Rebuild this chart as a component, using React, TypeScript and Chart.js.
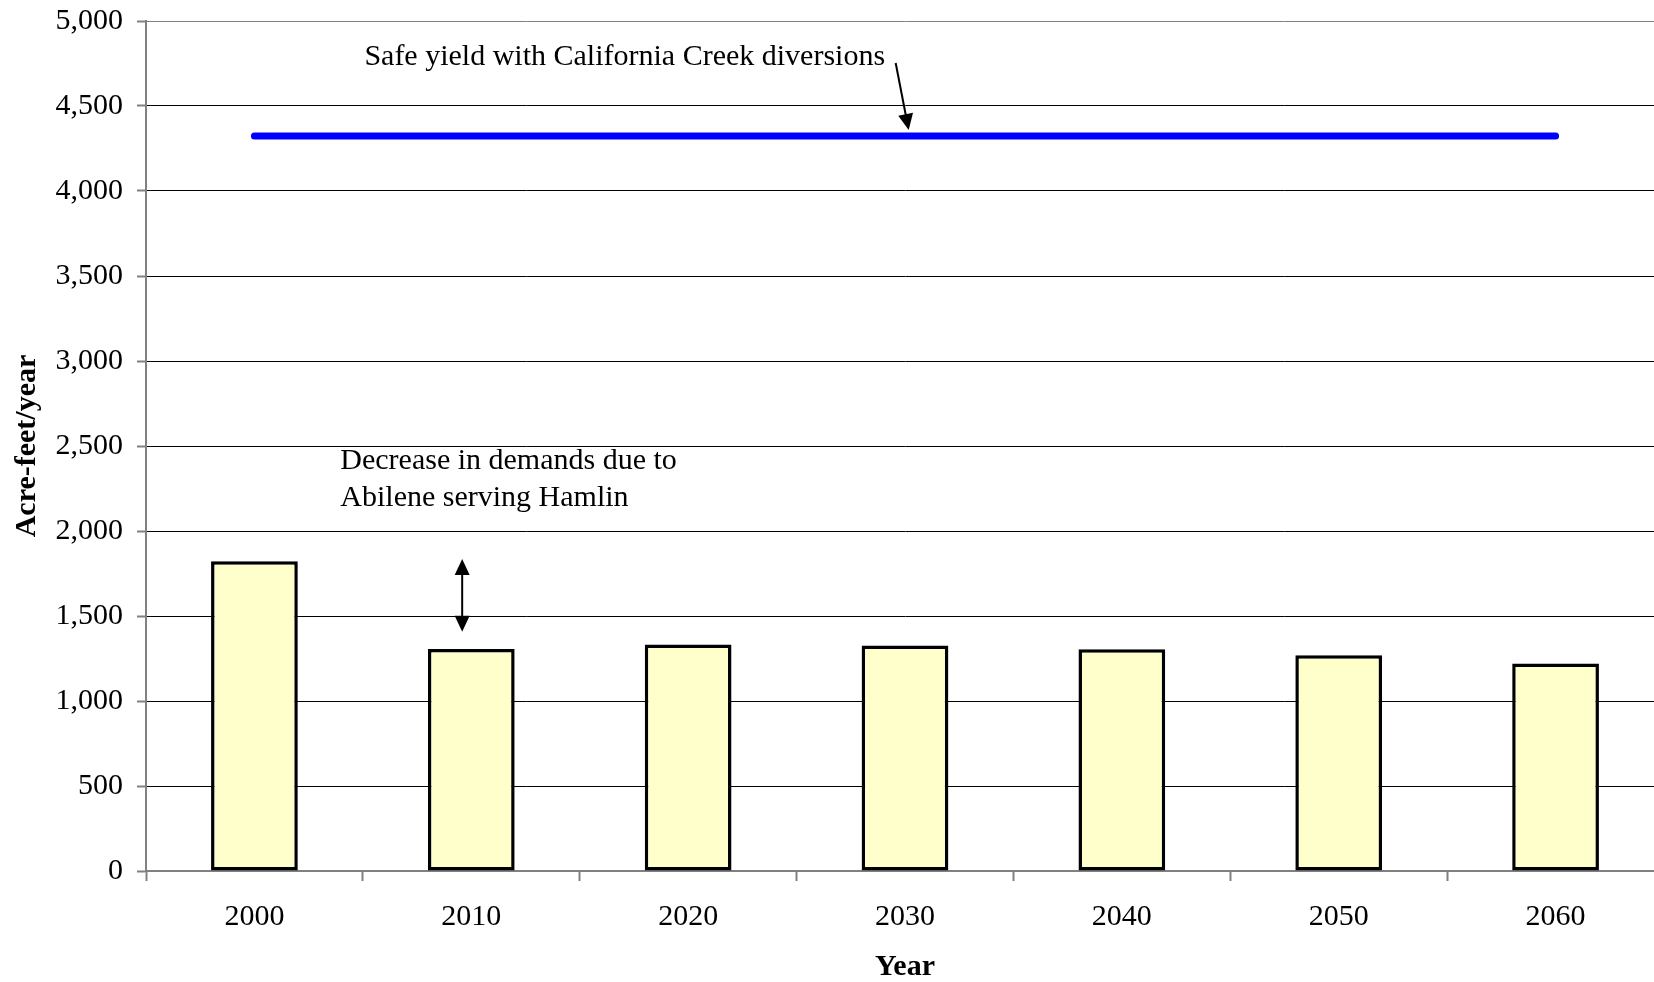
import React, { useEffect, useRef } from "react";
import { Chart, registerables } from "chart.js";

Chart.register(...registerables);

// ---- data ----
const years = ["2000", "2010", "2020", "2030", "2040", "2050", "2060"];
const demands = [1822, 1306, 1333, 1327, 1304, 1269, 1220];
const safeYield = [4324, 4324, 4324, 4324, 4324, 4324, 4324];
const yMin = 0;
const yMax = 5000;
const yStep = 500;

// ---- annotations (in data units: x = category index, y = acre-feet) ----
const safeLabel = { text: "Safe yield with California Creek diversions", x: 0.507, y: 4788 };
const safeArrow = { x1: 2.957, y1: 4753, x2: 3.017, y2: 4359 };
const decreaseLines = ["Decrease in demands due to", "Abilene serving Hamlin"];
const decreaseLabel = { x: 0.396, y: [2412, 2194] };
const decreaseArrow = { x: 0.958, yTop: 1835, yBottom: 1408 };

const SERIF = "'Liberation Serif', 'Times New Roman', serif";

function drawHead(ctx: CanvasRenderingContext2D, x: number, y: number, ang: number) {
  const len = 16;
  const half = 7.5;
  ctx.beginPath();
  ctx.moveTo(x, y);
  ctx.lineTo(x - len * Math.cos(ang) + half * Math.sin(ang), y - len * Math.sin(ang) - half * Math.cos(ang));
  ctx.lineTo(x - len * Math.cos(ang) - half * Math.sin(ang), y - len * Math.sin(ang) + half * Math.cos(ang));
  ctx.closePath();
  ctx.fill();
}

const annotationPlugin = {
  id: "annotations",
  afterDatasetsDraw(chart: any) {
    const { ctx, scales } = chart;
    const xs = scales.x;
    const ys = scales.y;
    const px = (v: number) => xs.getPixelForValue(0) + v * (xs.getPixelForValue(1) - xs.getPixelForValue(0));
    const py = (v: number) => ys.getPixelForValue(v);
    ctx.save();
    ctx.fillStyle = "#000";
    ctx.strokeStyle = "#000";
    ctx.font = `30px ${SERIF}`;
    ctx.textAlign = "left";
    ctx.textBaseline = "middle";
    ctx.fillText(safeLabel.text, px(safeLabel.x), py(safeLabel.y));
    decreaseLines.forEach((t, i) => ctx.fillText(t, px(decreaseLabel.x), py(decreaseLabel.y[i])));

    ctx.lineWidth = 2;
    // single arrow
    const ax1 = px(safeArrow.x1), ay1 = py(safeArrow.y1), ax2 = px(safeArrow.x2), ay2 = py(safeArrow.y2);
    const ang = Math.atan2(ay2 - ay1, ax2 - ax1);
    ctx.beginPath();
    ctx.moveTo(ax1, ay1);
    ctx.lineTo(ax2 - 12 * Math.cos(ang), ay2 - 12 * Math.sin(ang));
    ctx.stroke();
    drawHead(ctx, ax2, ay2, ang);

    // double arrow
    const dx = px(decreaseArrow.x), dt = py(decreaseArrow.yTop), db = py(decreaseArrow.yBottom);
    ctx.beginPath();
    ctx.moveTo(dx, dt + 12);
    ctx.lineTo(dx, db - 12);
    ctx.stroke();
    drawHead(ctx, dx, dt, -Math.PI / 2);
    drawHead(ctx, dx, db, Math.PI / 2);
    ctx.restore();
  },
};

export default function App() {
  const ref = useRef<HTMLCanvasElement>(null);
  useEffect(() => {
    if (!ref.current) return;
    const chart = new Chart(ref.current, {
      type: "bar",
      data: {
        labels: years,
        datasets: [
          {
            type: "line",
            label: "Safe yield",
            data: safeYield,
            borderColor: "#0000FF",
            borderWidth: 7,
            borderCapStyle: "round",
            pointRadius: 0,
            fill: false,
            order: 0,
          } as any,
          {
            type: "bar",
            label: "Demand",
            data: demands,
            backgroundColor: "#FFFFCC",
            borderColor: "#000000",
            borderWidth: 3.5,
            borderSkipped: false,
            barPercentage: 0.4,
            categoryPercentage: 1.0,
            order: 1,
          },
        ],
      },
      options: {
        animation: false,
        responsive: true,
        maintainAspectRatio: false,
        layout: { padding: { left: 0, right: 0, top: 21, bottom: 0 } },
        plugins: { legend: { display: false }, tooltip: { enabled: false } },
        scales: {
          x: {
            offset: true,
            grid: {
              offset: true,
              drawOnChartArea: false,
              drawTicks: true,
              tickLength: 10,
              tickColor: "#808080",
              tickWidth: 2,
            },
            border: { color: "#808080", width: 2 },
            ticks: { color: "#000", font: { family: SERIF, size: 30 }, padding: 18, maxRotation: 0 },
            title: {
              display: true,
              text: "Year",
              color: "#000",
              font: { family: SERIF, size: 30, weight: "bold", lineHeight: 1.0 },
              padding: { top: 0, bottom: 0 },
            },
            afterFit: (s: any) => {
              s.height = 111;
              s.paddingLeft = 0;
              s.paddingRight = 0;
            },
          },
          y: {
            min: yMin,
            max: yMax,
            grid: {
              color: (c: any) => (c.tick && c.tick.value === yMax ? "#808080" : "#000"),
              lineWidth: 1,
              tickColor: "#808080",
              tickWidth: 2,
              tickLength: 9,
            },
            border: { color: "#808080", width: 2 },
            ticks: {
              stepSize: yStep,
              color: "#000",
              font: { family: SERIF, size: 30 },
              padding: 14,
              callback: (v: any) => Number(v).toLocaleString("en-US"),
            },
            title: {
              display: true,
              text: "Acre-feet/year",
              color: "#000",
              font: { family: SERIF, size: 30, weight: "bold", lineHeight: 1.2 },
              padding: { top: 9, bottom: 0 },
            },
            afterFit: (s: any) => {
              s.width = 146;
              s.paddingTop = 0;
              s.paddingBottom = 0;
            },
          },
        },
      },
      plugins: [annotationPlugin],
    });
    return () => chart.destroy();
  }, []);

  return (
    <div style={{ position: "fixed", left: 0, top: 0, width: 1654, height: 982, overflow: "hidden", background: "#fff" }}>
      <div style={{ position: "absolute", left: 0, top: 0, width: 1664, height: 982 }}>
        <canvas ref={ref} />
      </div>
    </div>
  );
}
